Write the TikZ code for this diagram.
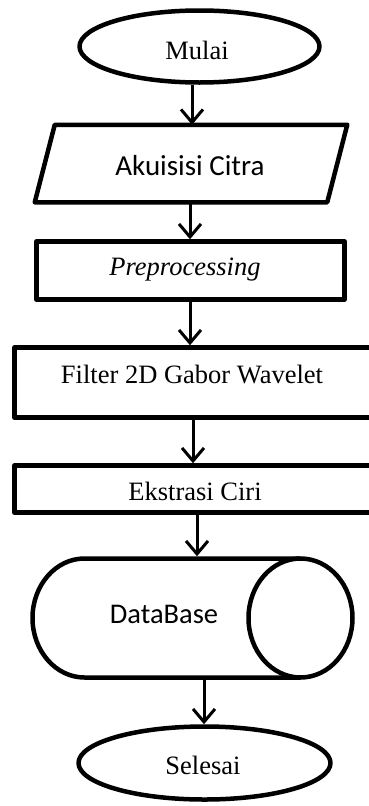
\documentclass[tikz,border=0pt]{standalone}
\usepackage{fontspec}
\setmainfont{Liberation Serif}
\newfontfamily\calib{Carlito}
\usetikzlibrary{shapes.geometric,arrows.meta}
\begin{document}
\begin{tikzpicture}[x=1pt,y=1pt,
  shp/.style={draw=black,line width=4.5pt,line join=round,inner sep=0pt},
  frm/.style={inner sep=0pt,outer sep=2.25pt},
  tx/.style={font=\fontsize{26.5}{30}\selectfont,inner sep=0pt},
  sx/.style={font=\calib\fontsize{29}{33}\selectfont,inner sep=0pt},
  arr/.style={line width=3pt,-{Straight Barb[length=13pt,width=22pt,line width=3pt]}}
]
\useasboundingbox (0,0) rectangle (369,-806);
\clip (0,0) rectangle (369,-806);
\fill[white] (0,0) rectangle (369,-806);

% Mulai
\node[shp,ellipse,minimum width=240pt,minimum height=72pt] (mulai) at (199.5,-46.5) {};
\node[tx] (mulaitx) at (197,-50) {Mulai};

% Akuisisi Citra (parallelogram)
\node[frm,minimum width=308pt,minimum height=73pt] (akuisisi) at (191,-163.5) {};
\draw[shp] ([xshift=20pt]akuisisi.north west) -- (akuisisi.north east)
  -- ([xshift=-20pt]akuisisi.south east) -- (akuisisi.south west) -- cycle;
\node[sx] (akutx) at (190,-166) {Akuisisi Citra};

% Preprocessing
\node[shp,minimum width=308pt,minimum height=58pt] (pre) at (190.5,-270.5) {};
\node[tx,font=\itshape\fontsize{26.5}{30}\selectfont] (pretx) at (185,-270) {Preprocessing};

% Filter
\node[shp,minimum width=365.5pt,minimum height=70pt] (filter) at (197.25,-382.5) {};
\node[tx] (filtertx) at (192,-375) {Filter 2D Gabor Wavelet};

% Ekstrasi Ciri
\node[shp,minimum width=365.5pt,minimum height=47pt] (ekstrasi) at (197.25,-489) {};
\node[tx] (ekstx) at (195,-491) {Ekstrasi Ciri};

% DataBase (horizontal cylinder)
\node[frm,minimum width=320pt,minimum height=119pt] (db) at (192.5,-618) {};
\draw[shp] (300.5,-558.5) -- (84.5,-558.5)
  arc[start angle=90,end angle=270,x radius=52,y radius=59.5] -- (300.5,-677.5);
\draw[shp] (300.5,-618) ellipse[x radius=52,y radius=59.5];
\node[font=\calib\fontsize{28.5}{32}\selectfont,inner sep=0pt] (dbtx) at (164,-614) {DataBase};

% Selesai
\node[shp,ellipse,minimum width=252pt,minimum height=73pt] (selesai) at (204.5,-763) {};
\node[tx] (selesaitx) at (203,-765) {Selesai};

% connectors
\coordinate (c1) at (192,0);
\coordinate (c2) at (190,0);
\coordinate (c3) at (190,0);
\coordinate (c4) at (193,0);
\coordinate (c5) at (197,0);
\coordinate (c6) at (204,0);
\draw[arr] (mulai.south -| c1) -- (akuisisi.north -| c1);
\draw[arr] (akuisisi.south -| c2) -- (pre.north -| c2);
\draw[arr] (pre.south -| c3) -- (filter.north -| c3);
\draw[arr] (filter.south -| c4) -- (ekstrasi.north -| c4);
\draw[arr] (ekstrasi.south -| c5) -- (db.north -| c5);
\draw[arr] (db.south -| c6) -- (selesai.north -| c6);
\end{tikzpicture}
\end{document}
